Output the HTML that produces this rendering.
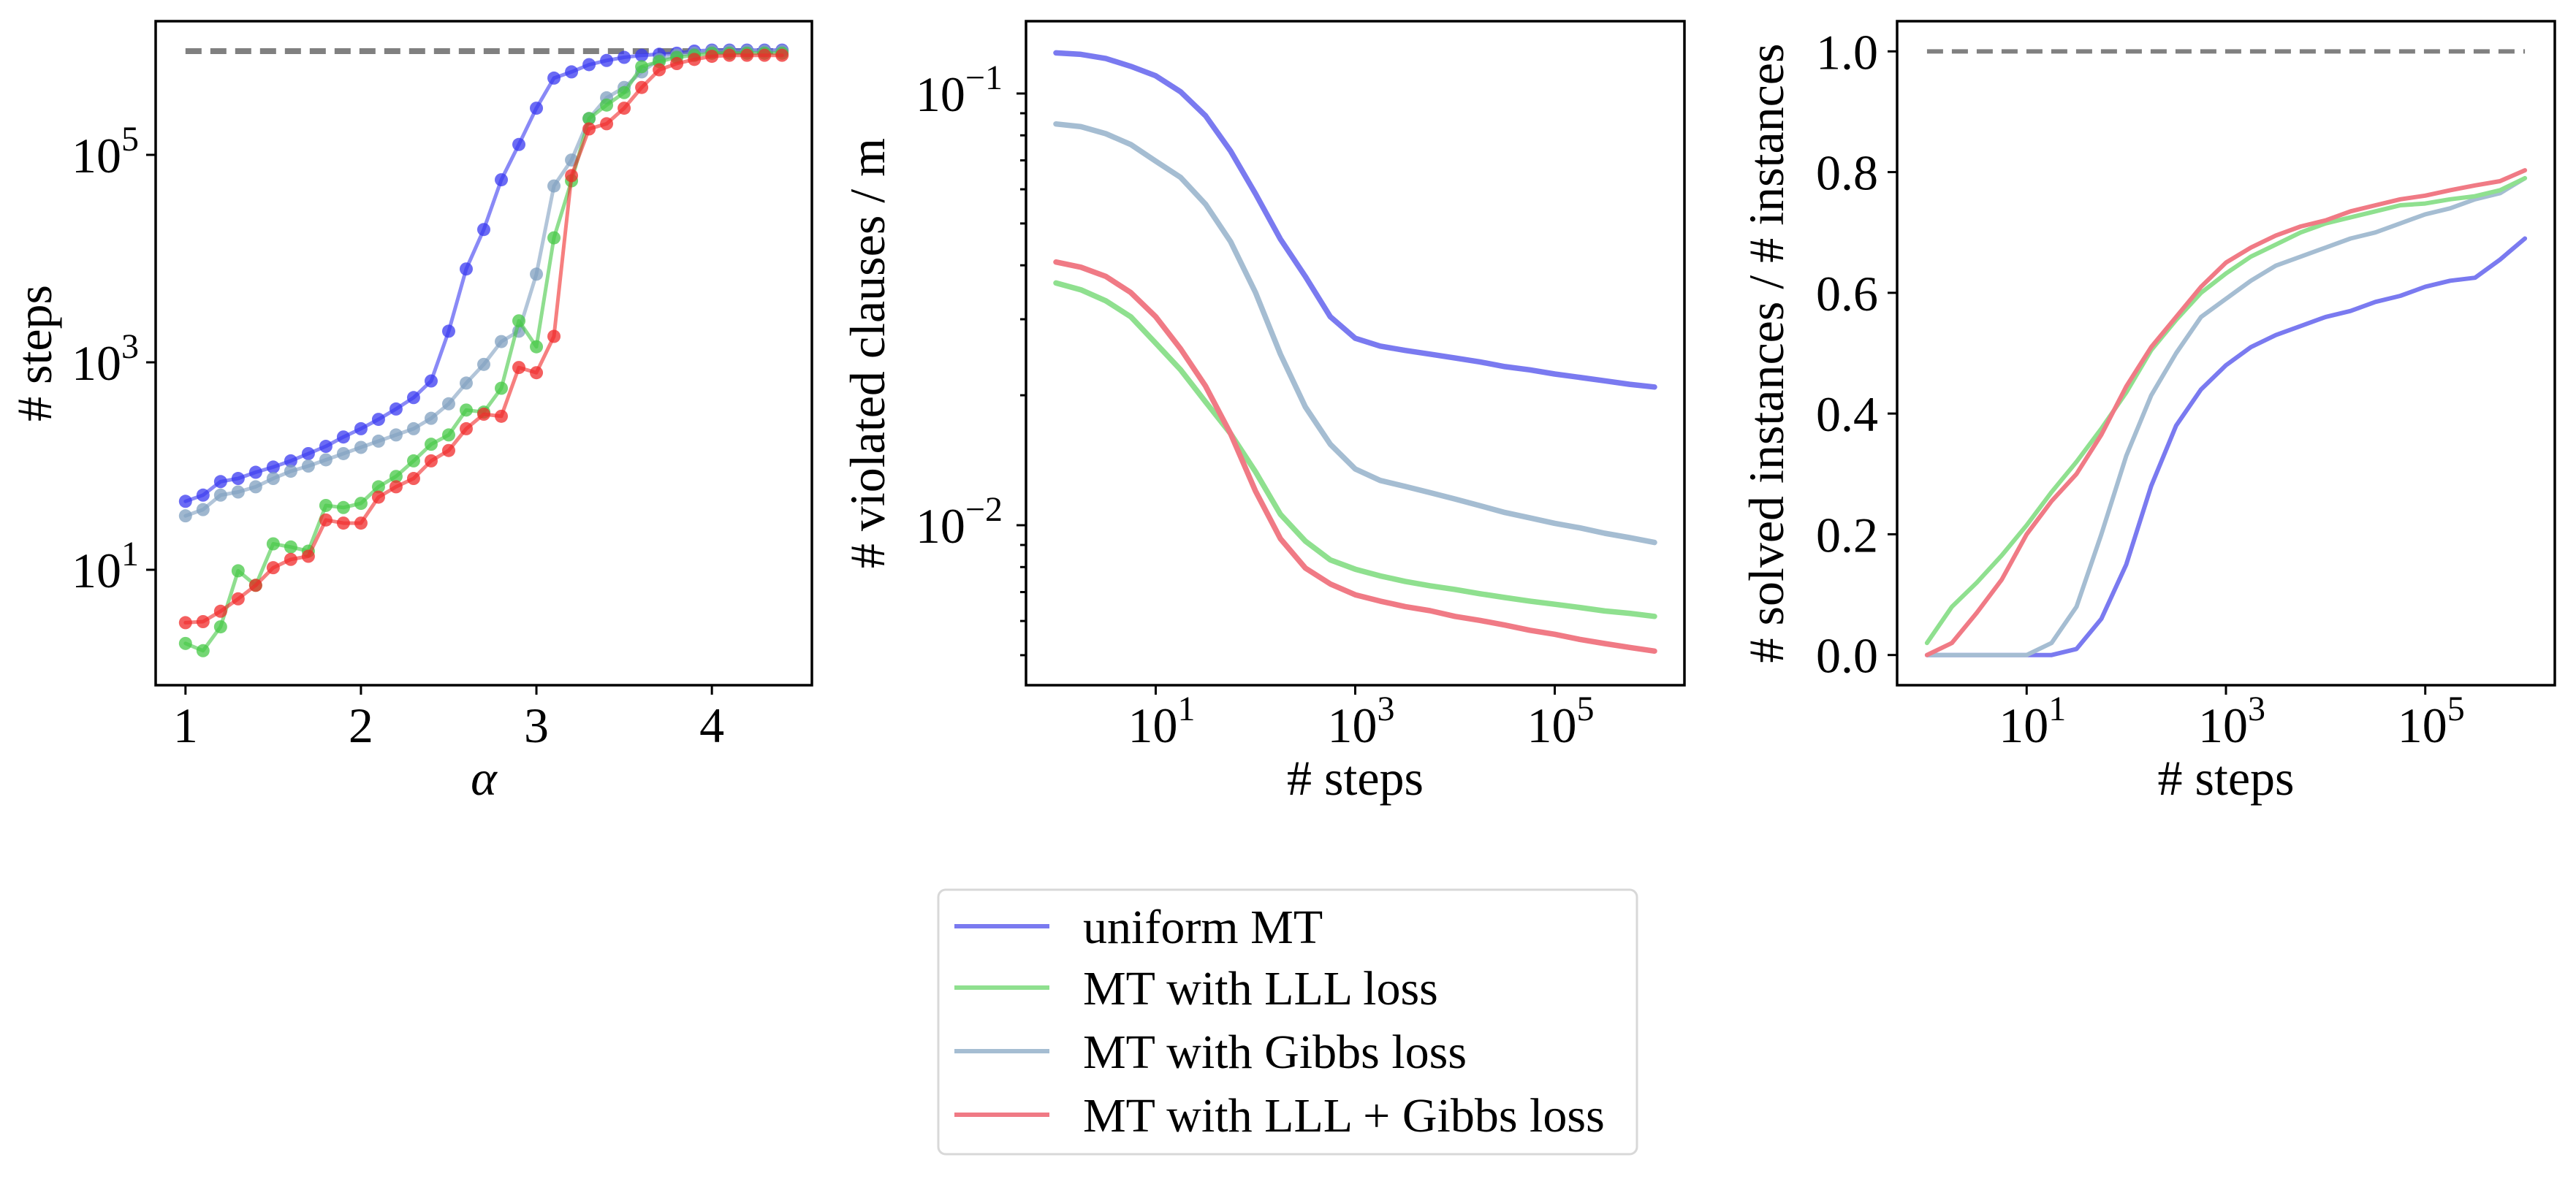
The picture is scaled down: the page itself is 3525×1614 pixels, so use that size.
<!DOCTYPE html>
<html><head><meta charset="utf-8">
<style>
html,body{margin:0;padding:0;background:#fff;}
svg{display:block;font-family:"Liberation Serif",serif;}
</style></head>
<body>
<svg id="fig" width="3525" height="1614" viewBox="0 0 3525 1614" xmlns="http://www.w3.org/2000/svg">
<rect width="3525" height="1614" fill="#fff"/>
<g id="p1"></g>
<g id="p2"></g>
<g id="p3"></g>
<g id="legend">
  <rect x="1284" y="1218" width="956" height="362" rx="10" fill="#fff" stroke="#d8d8d8" stroke-width="3"/>
  <line x1="1306" y1="1268" x2="1436" y2="1268" stroke="#7a7af0" stroke-width="6"/>
  <text x="1482" y="1291" font-size="66">uniform MT</text>
  <line x1="1306" y1="1352" x2="1436" y2="1352" stroke="#8fe08f" stroke-width="6"/>
  <text x="1482" y="1375" font-size="66">MT with LLL loss</text>
  <line x1="1306" y1="1439" x2="1436" y2="1439" stroke="#a5bdd2" stroke-width="6"/>
  <text x="1482" y="1462" font-size="66">MT with Gibbs loss</text>
  <line x1="1306" y1="1526" x2="1436" y2="1526" stroke="#f07a85" stroke-width="6"/>
  <text x="1482" y="1549" font-size="66">MT with LLL + Gibbs loss</text>
</g>
</svg>
<script>
// ---------- Panel 1 data (alpha vs log10 steps) ----------
const alphas = [1.0,1.1,1.2,1.3,1.4,1.5,1.6,1.7,1.8,1.9,2.0,2.1,2.2,2.3,2.4,2.5,2.6,2.7,2.8,2.9,3.0,3.1,3.2,3.3,3.4,3.5,3.6,3.7,3.8,3.9,4.0,4.1,4.2,4.3,4.4];
const stepsUniformLog = [1.66,1.72,1.85,1.88,1.94,1.99,2.05,2.12,2.19,2.28,2.36,2.45,2.55,2.66,2.82,3.3,3.9,4.28,4.76,5.1,5.45,5.74,5.8,5.87,5.91,5.94,5.96,5.97,5.98,6.0,6.01,6.01,6.01,6.01,6.01];
const stepsGibbsLog = [1.52,1.58,1.72,1.75,1.8,1.88,1.95,2.0,2.06,2.12,2.18,2.24,2.3,2.36,2.46,2.6,2.8,2.98,3.2,3.3,3.85,4.7,4.95,5.35,5.55,5.65,5.8,5.92,5.96,5.98,6.0,6.0,6.0,6.0,6.0];
const stepsLLLLog = [0.29,0.22,0.45,0.99,0.85,1.25,1.22,1.18,1.62,1.6,1.64,1.8,1.9,2.05,2.21,2.3,2.54,2.52,2.75,3.4,3.15,4.2,4.75,5.35,5.48,5.6,5.85,5.9,5.94,5.96,5.98,5.98,5.98,5.98,5.98];
const stepsBothLog = [0.49,0.5,0.6,0.72,0.85,1.02,1.1,1.13,1.48,1.45,1.45,1.7,1.8,1.88,2.05,2.15,2.36,2.5,2.48,2.95,2.9,3.25,4.8,5.25,5.3,5.45,5.65,5.82,5.88,5.92,5.95,5.96,5.96,5.96,5.96];
const maxStepsLog = 6;
const p1YTicks = [1,3,5];
const p1XTicks = [1,2,3,4];

// ---------- Panel 2/3 shared x (log10 steps) ----------
const stepLogs = [0,0.25,0.5,0.75,1,1.25,1.5,1.75,2,2.25,2.5,2.75,3,3.25,3.5,3.75,4,4.25,4.5,4.75,5,5.25,5.5,5.75,6];
// Panel 2: violated clauses / m
const violUniform = [0.1242,0.1232,0.1205,0.1156,0.1099,0.1009,0.0888,0.0736,0.0586,0.0460,0.0377,0.0304,0.0271,0.0260,0.0254,0.0249,0.0244,0.0239,0.0233,0.0229,0.0224,0.0220,0.0216,0.0212,0.0209];
const violGibbs = [0.0850,0.0838,0.0807,0.0762,0.0697,0.0639,0.0554,0.0454,0.0346,0.0249,0.0188,0.0154,0.0135,0.0127,0.0123,0.0119,0.0115,0.0111,0.0107,0.0104,0.0101,0.00986,0.00958,0.00936,0.00912];
const violLLL = [0.0364,0.0351,0.0331,0.0304,0.0264,0.0229,0.0193,0.0163,0.0133,0.0106,0.00919,0.00831,0.00791,0.00763,0.00741,0.00724,0.00710,0.00694,0.00680,0.00667,0.00656,0.00645,0.00633,0.00625,0.00615];
const violBoth = [0.0407,0.0396,0.0377,0.0346,0.0304,0.0256,0.0210,0.0163,0.0120,0.00931,0.00796,0.00731,0.00690,0.00667,0.00648,0.00634,0.00615,0.00602,0.00587,0.00571,0.00559,0.00544,0.00532,0.00521,0.00511];
// Panel 3: solved fraction
const solvedUniform = [0,0,0,0,0,0,0.01,0.06,0.15,0.28,0.38,0.44,0.48,0.51,0.53,0.545,0.56,0.57,0.585,0.595,0.61,0.62,0.625,0.655,0.69];
const solvedGibbs = [0,0,0,0,0,0.02,0.08,0.2,0.33,0.43,0.5,0.56,0.59,0.62,0.645,0.66,0.675,0.69,0.70,0.715,0.73,0.74,0.755,0.765,0.79];
const solvedLLL = [0.02,0.08,0.12,0.165,0.215,0.27,0.32,0.375,0.435,0.505,0.555,0.6,0.632,0.66,0.68,0.70,0.715,0.725,0.735,0.745,0.748,0.755,0.76,0.77,0.79];
const solvedBoth = [0,0.02,0.07,0.125,0.2,0.255,0.3,0.365,0.445,0.51,0.56,0.61,0.65,0.675,0.695,0.71,0.72,0.735,0.745,0.755,0.761,0.77,0.778,0.785,0.803];
const solvedMax = 1.0;
const logXTicks = [1,3,5];
const p3YTicks = [0,0.2,0.4,0.6,0.8,1.0];
const p2YMajor = [-1,-2];

const NS = "http://www.w3.org/2000/svg";
function el(parent, tag, attrs){ const e=document.createElementNS(NS,tag); for(const k in attrs) e.setAttribute(k,attrs[k]); parent.appendChild(e); return e; }
const TOP=29, BOT=938;
const FS=68;
const C = {blue:"#7a7af0", green:"#8fe08f", steel:"#a5bdd2", red:"#f07a85"};

function frame(g,x0,x1){
  const r = el(g,'rect',{x:x0,y:TOP,width:x1-x0,height:BOT-TOP,fill:'none',stroke:'#000','stroke-width':3.5});
  
  
}
function powLabel(g,x,y,exp,anchor,name){
  const t = el(g,'text',{x:x,y:y,'font-size':FS,'text-anchor':anchor});
  
  
  const a=document.createElementNS(NS,'tspan'); a.textContent='10'; t.appendChild(a);
  const b=document.createElementNS(NS,'tspan'); b.setAttribute('dy','-30'); b.setAttribute('font-size','48'); b.textContent=exp; t.appendChild(b);
  return t;
}
function tick(g,x1,y1,x2,y2,name){
  const l=el(g,'line',{x1:x1,y1:y1,x2:x2,y2:y2,stroke:'#000','stroke-width':3});
  
  
}
function ylabel(g,x,text,name){
  const cy=(TOP+BOT)/2;
  const t=el(g,'text',{x:x,y:cy,'font-size':FS,'text-anchor':'middle',transform:`rotate(-90 ${x} ${cy})`});
  
  
  t.textContent=text;
}
function xlabel(g,x,text,name,italic){
  const t=el(g,'text',{x:x,y:1088,'font-size':FS,'text-anchor':'middle'});
  if(italic) t.setAttribute('font-style','italic');
  
  
  t.textContent=text;
}
function path(g,xs,ys,fx,fy,color,w,name){
  let d=''; xs.forEach((v,i)=>{ d+=(i?'L':'M')+fx(v).toFixed(1)+','+fy(ys[i]).toFixed(1); });
  const p=el(g,'path',{d:d,fill:'none',stroke:color,'stroke-width':w,'stroke-linejoin':'round','stroke-linecap':'round'});
  
  
  return p;
}

// ---------- Panel 1 ----------
(function(){
  const g=document.getElementById('p1');
  const X0=213,X1=1111;
  const amin=alphas[0], amax=alphas[alphas.length-1], span=amax-amin;
  const fx=a=>X0+(a-(amin-0.05*span))/(span*1.1)*(X1-X0);
  const fy=l=>212-(l-5)*142;
  frame(g,X0,X1);
  const dash=el(g,'line',{x1:fx(amin),y1:fy(maxStepsLog),x2:fx(amax),y2:fy(maxStepsLog),stroke:'#808080','stroke-width':8,'stroke-dasharray':'22 12'});
  
  
  const series=[[stepsUniformLog,'#3a3af0','uniform'],[stepsGibbsLog,'#7f9fbf','gibbs'],[stepsLLLLog,'#45c845','lll'],[stepsBothLog,'#f02a2a','lll-gibbs']];
  series.forEach(([ys,col,nm])=>{
    const p=path(g,alphas,ys,fx,fy,col,5,'line-'+nm); p.setAttribute('opacity','0.6');
    ys.forEach((v,i)=>{
      const c=el(g,'circle',{cx:fx(alphas[i]),cy:fy(v),r:9,fill:col,opacity:0.75});
      
      
    });
  });
  p1XTicks.forEach(v=>{ tick(g,fx(v),BOT,fx(v),BOT+13,'x-tick');
    const t=el(g,'text',{x:fx(v),y:1016,'font-size':FS,'text-anchor':'middle'});
    
    
    t.textContent=v; });
  p1YTicks.forEach(v=>{ tick(g,X0-13,fy(v),X0,fy(v),'y-tick'); powLabel(g,190,fy(v)+24,String(v),'end','y-tick-label'); });
  ylabel(g,70,'# steps','y-axis-title');
  xlabel(g,(X0+X1)/2,'α','x-axis-title',true);
})();

function logX(X0,X1){ const lo=stepLogs[0], hi=stepLogs[stepLogs.length-1], s=hi-lo; return l=>X0+(l-(lo-0.05*s))/(s*1.1)*(X1-X0); }

// ---------- Panel 2 ----------
(function(){
  const g=document.getElementById('p2');
  const X0=1404,X1=2305;
  const fx=logX(X0,X1);
  const fy=v=>128-(Math.log10(v)+1)*591;
  frame(g,X0,X1);
  [[violUniform,C.blue,'uniform'],[violGibbs,C.steel,'gibbs'],[violLLL,C.green,'lll'],[violBoth,C.red,'lll-gibbs']].forEach(([ys,col,nm])=>path(g,stepLogs,ys,fx,fy,col,7.5,'curve-'+nm));
  logXTicks.forEach(v=>{ tick(g,fx(v),BOT,fx(v),BOT+13,'x-tick'); powLabel(g,fx(v)+8,1016,String(v),'middle','x-tick-label'); });
  p2YMajor.forEach(e=>{ const y=fy(Math.pow(10,e)); tick(g,X0-13,y,X0,y,'y-tick'); powLabel(g,1372,y+24,'−'+(-e),'end','y-tick-label'); });
  [2,3,4,5,6,7,8,9].forEach(m=>{ [0.01,0.001].forEach(b=>{ const y=fy(m*b); if(y>TOP&&y<BOT) tick(g,X0-8,y,X0,y,'y-minor-tick'); }); });
  ylabel(g,1210,'# violated clauses / m','y-axis-title');
  xlabel(g,(X0+X1)/2,'# steps','x-axis-title',false);
})();

// ---------- Panel 3 ----------
(function(){
  const g=document.getElementById('p3');
  const X0=2596,X1=3496;
  const fx=logX(X0,X1);
  const fy=v=>BOT-(v+0.05)/1.1*(BOT-TOP);
  frame(g,X0,X1);
  const dash=el(g,'line',{x1:fx(stepLogs[0]),y1:fy(solvedMax),x2:fx(stepLogs[stepLogs.length-1]),y2:fy(solvedMax),stroke:'#808080','stroke-width':6,'stroke-dasharray':'22 12'});
  
  
  [[solvedUniform,C.blue,'uniform'],[solvedGibbs,C.steel,'gibbs'],[solvedLLL,C.green,'lll'],[solvedBoth,C.red,'lll-gibbs']].forEach(([ys,col,nm])=>path(g,stepLogs,ys,fx,fy,col,6,'curve-'+nm));
  logXTicks.forEach(v=>{ tick(g,fx(v),BOT,fx(v),BOT+13,'x-tick'); powLabel(g,fx(v)+8,1016,String(v),'middle','x-tick-label'); });
  p3YTicks.forEach(v=>{ tick(g,X0-13,fy(v),X0,fy(v),'y-tick');
    const t=el(g,'text',{x:2570,y:fy(v)+24,'font-size':FS,'text-anchor':'end'});
    
    
    t.textContent=v.toFixed(1); });
  ylabel(g,2440,'# solved instances / # instances','y-axis-title');
  xlabel(g,(X0+X1)/2,'# steps','x-axis-title',false);
})();
</script>
</body></html>
